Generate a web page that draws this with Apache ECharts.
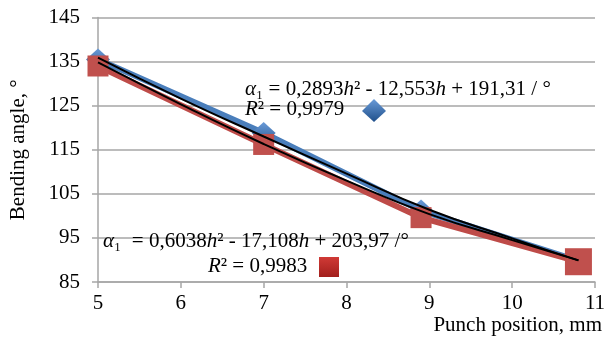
<!DOCTYPE html>
<html>
<head>
<meta charset="utf-8">
<script src="https://cdn.jsdelivr.net/npm/echarts@6/dist/echarts.min.js"></script>
<style>
html,body{margin:0;padding:0;background:#fff;}
#chart{width:616px;height:343px;}
</style>
</head>
<body>
<div id="chart"></div>
<script>
// ---- data ----
const xPositions = [5, 7, 8.9, 10.8];           // punch position, mm
const angleBlue  = [135.5, 118.8, 101.2, 89.8];  // diamond series, °
const angleRed   = [134.0, 116.2, 99.6, 89.6];   // square series, °
const trendX     = [5, 6, 7, 8, 9, 10, 10.8];
const trendBlue  = [135.9, 126.6, 118.0, 109.6, 101.4, 94.9, 89.9];
const trendRed   = [134.8, 125.3, 116.3, 108.0, 100.4, 94.5, 89.9];
const xTicks = [5, 6, 7, 8, 9, 10, 11];
const yTicks = [85, 95, 105, 115, 125, 135, 145];
const xAxisTitle = 'Punch position, mm';
const yAxisTitle = 'Bending angle, °';
const eqBlue = ['α', '₁ = 0,2893', 'h', '² - 12,553', 'h', ' + 191,31 / °'];
const r2Blue = ['R', '² = 0,9979'];
const eqRed  = ['α', '₁  = 0,6038', 'h', '² - 17,108', 'h', ' + 203,97 /°'];
const r2Red  = ['R', '² = 0,9983'];

const FONT = 'Liberation Serif';
const FS = 21;
const GRID = '#a6a6a6';

function pairs(xs, ys) { return xs.map((x, i) => [x, ys[i]]); }
function richText(parts) {
  return parts.map((p, i) => (i % 2 === 0 ? '{i|' : '{n|') + p + '}').join('');
}
const rich = {
  i: { fontFamily: FONT, fontSize: FS, fontStyle: 'italic', fill: '#000' },
  n: { fontFamily: FONT, fontSize: FS, fill: '#000' }
};

const chart = echarts.init(document.getElementById('chart'));
chart.setOption({
  backgroundColor: '#fff',
  animation: false,
  grid: { left: 95, right: 21, top: 17.5, bottom: 61 },
  xAxis: {
    type: 'value', min: xTicks[0], max: xTicks[xTicks.length - 1], interval: 1,
    name: xAxisTitle, nameLocation: 'end', nameGap: 7,
    nameTextStyle: { fontFamily: FONT, fontSize: FS, color: '#000', align: 'right', verticalAlign: 'top', padding: [33, 0, 0, 0] },
    axisLine: { show: true, onZero: false, lineStyle: { color: GRID, width: 1.5 } },
    axisTick: { show: true, length: 6, lineStyle: { color: GRID, width: 1.5 } },
    axisLabel: { fontFamily: FONT, fontSize: FS, color: '#000', margin: 11 },
    splitLine: { show: false }
  },
  yAxis: {
    type: 'value', min: yTicks[0], max: yTicks[yTicks.length - 1], interval: 10,
    name: yAxisTitle, nameLocation: 'middle', nameGap: 69, nameRotate: 90,
    nameTextStyle: { fontFamily: FONT, fontSize: FS, color: '#000' },
    axisLine: { show: true, lineStyle: { color: GRID, width: 1.5 } },
    axisTick: { show: true, length: 6, lineStyle: { color: GRID, width: 1.5 } },
    axisLabel: { fontFamily: FONT, fontSize: FS, color: '#000', margin: 18 },
    splitLine: { show: true, lineStyle: { color: GRID, width: 1.5 } }
  },
  series: [
    {
      type: 'line', z: 2, data: pairs(xPositions, angleBlue),
      symbol: 'diamond', symbolSize: [24, 22],
      lineStyle: { color: '#4a7ebb', width: 6 },
      itemStyle: { color: new echarts.graphic.LinearGradient(0, 0, 0, 1, [
        { offset: 0, color: '#6a9bd8' }, { offset: 1, color: '#2a5a95' }]) }
    },
    {
      type: 'line', z: 3, data: pairs(xPositions, angleRed),
      symbol: 'rect',
      symbolSize: (v, p) => p.dataIndex === xPositions.length - 1 ? 27 : 21,
      lineStyle: { color: '#be4b48', width: 6 },
      itemStyle: { color: '#c0504d' }
    },
    {
      type: 'line', z: 4, data: pairs(trendX, trendBlue), smooth: true,
      symbol: 'none', lineStyle: { color: '#000', width: 2 }
    },
    {
      type: 'line', z: 4, data: pairs(trendX, trendRed), smooth: true,
      symbol: 'none', lineStyle: { color: '#000', width: 2 }
    }
  ],
  graphic: [
    { type: 'text', left: 245, top: 79, z: 10, style: { text: richText(eqBlue), rich: rich } },
    { type: 'text', left: 245, top: 99, z: 10, style: { text: richText(r2Blue), rich: rich } },
    { type: 'polygon', z: 10, shape: { points: [[374, 99], [386, 111], [374, 122], [362, 111]] },
      style: { fill: new echarts.graphic.LinearGradient(0, 0, 0, 1, [
        { offset: 0, color: '#6a9bd8' }, { offset: 1, color: '#1f4f8a' }]) } },
    { type: 'text', left: 103, top: 231, z: 10, style: { text: richText(eqRed), rich: rich } },
    { type: 'text', left: 208, top: 256, z: 10, style: { text: richText(r2Red), rich: rich } },
    { type: 'rect', z: 10, shape: { x: 319, y: 257, width: 20, height: 20 },
      style: { fill: new echarts.graphic.LinearGradient(0, 0, 0, 1, [
        { offset: 0, color: '#d03a36' }, { offset: 1, color: '#a21f1c' }]) } }
  ]
});
</script>
</body>
</html>
